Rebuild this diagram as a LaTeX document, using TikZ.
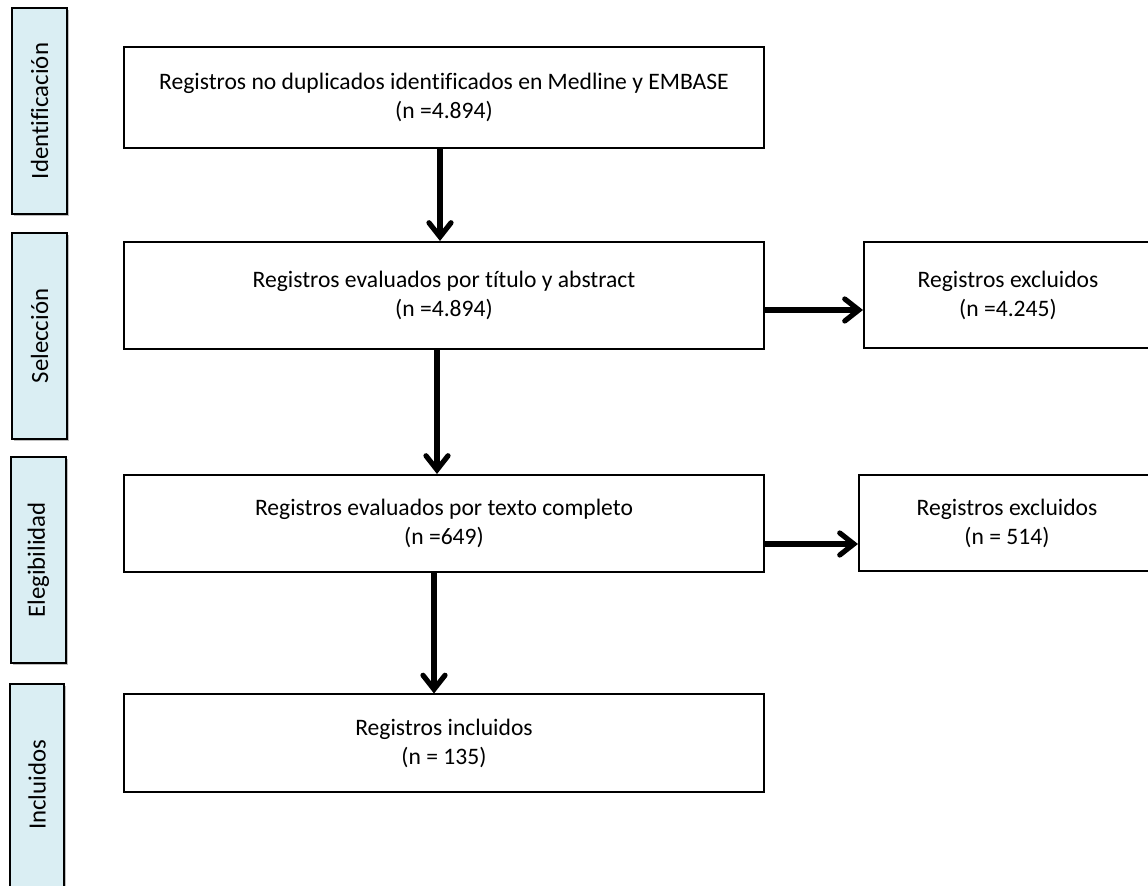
\documentclass[tikz,border=0pt]{standalone}
\usepackage{fontspec}
\setmainfont{Carlito}[Ligatures=NoCommon]
\usetikzlibrary{arrows.meta,shadows}
\definecolor{sidefill}{HTML}{DAEEF3}
\tikzset{
  box/.style={draw=black, line width=1pt, fill=white, inner sep=0pt, align=center,
    font=\fontsize{11.8pt}{14.5pt}\selectfont},
  side/.style={draw=black, line width=1pt, fill=sidefill, inner sep=0pt,
    drop shadow={shadow xshift=1.2pt, shadow yshift=-1.2pt, opacity=0.25, fill=black},
    font=\fontsize{12.4pt}{15pt}\selectfont},
  sidetext/.style={rotate=90, font=\fontsize{12.4pt}{15pt}\selectfont},
  arr/.style={line width=2.6pt, -{Straight Barb[length=7pt, width=11pt, line cap=round]}},
}
\begin{document}
\begin{tikzpicture}[x=0.5pt, y=-0.5pt]
\useasboundingbox (0,0) rectangle (1148,886);
\clip (0,0) rectangle (1148,886);
% side labels
\node[side, minimum width=27.5pt, minimum height=103pt] (s1) at (39.5,111) {};
\node[sidetext] (t1) at (s1.center) {Identificación};
\node[side, minimum width=27.5pt, minimum height=103pt] (s2) at (39.5,336) {};
\node[sidetext] (t2) at (s2.center) {Selección};
\node[side, minimum width=27.5pt, minimum height=103pt] (s3) at (38.5,560) {};
\node[sidetext] (t3) at (s3.center) {Elegibilidad};
\node[side, minimum width=27pt, minimum height=110pt] (s4) at (37,794) {};
\node[sidetext] (t4) at (37,785) {Incluidos};
% main boxes
\node[box, minimum width=320pt, minimum height=50.5pt] (b1) at (444,97.5)
  {Registros no duplicados identificados en Medline y EMBASE\\(n =4.894)};
\node[box, minimum width=320pt, minimum height=53.5pt] (b2) at (444,295.5)
  {Registros evaluados por título y abstract\\(n =4.894)};
\node[box, minimum width=320pt, minimum height=48.5pt] (b3) at (444,523.5)
  {Registros evaluados por texto completo\\(n =649)};
\node[box, minimum width=320pt, minimum height=49pt] (b4) at (444,743.5)
  {Registros incluidos\\(n = 135)};
\node[box, minimum width=144pt, minimum height=53pt] (e1) at (1008,295)
  {Registros excluidos\\(n =4.245)};
\node[box, minimum width=148pt, minimum height=48pt] (e2) at (1007,523)
  {Registros excluidos\\(n = 514)};
% arrows
\coordinate (a1) at ([yshift=-7.25pt]b2.east);
\coordinate (a2) at ([yshift=-10.25pt]b3.east);
\draw[arr] ([xshift=-2pt]b1.south) -- ([xshift=-2pt]b2.north);
\draw[arr] ([xshift=-3.5pt]b2.south) -- ([xshift=-3.5pt]b3.north);
\draw[arr] ([xshift=-5pt]b3.south) -- ([xshift=-5pt]b4.north);
\draw[arr] (a1) -- (e1.west |- a1);
\draw[arr] (a2) -- (e2.west |- a2);
\end{tikzpicture}
\end{document}
